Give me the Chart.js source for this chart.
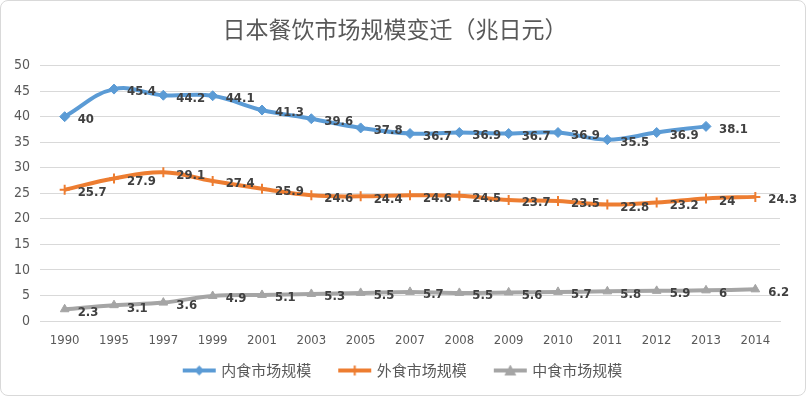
<!DOCTYPE html>
<html>
<head>
<meta charset="utf-8">
<script src="https://cdn.jsdelivr.net/npm/chart.js@4/dist/chart.umd.min.js"></script>
<style>
  html, body { margin: 0; padding: 0; background: #fff; }
  #wrap { width: 806px; height: 396px; box-sizing: border-box; border: 1px solid #d9d9d9; border-radius: 8px; position: relative; overflow: hidden; }
  #myChart { position: absolute; left: -1px; top: -1px; }
</style>
</head>
<body>
<div id="wrap"><canvas id="myChart" width="806" height="396"></canvas></div>
<script>
const years = ['1990', '1995', '1997', '1999', '2001', '2003', '2005', '2007', '2008', '2009', '2010', '2011', '2012', '2013', '2014'];
const neishi = [40, 45.4, 44.2, 44.1, 41.3, 39.6, 37.8, 36.7, 36.9, 36.7, 36.9, 35.5, 36.9, 38.1, null];
const waishi = [25.7, 27.9, 29.1, 27.4, 25.9, 24.6, 24.4, 24.6, 24.5, 23.7, 23.5, 22.8, 23.2, 24, 24.3];
const zhongshi = [2.3, 3.1, 3.6, 4.9, 5.1, 5.3, 5.5, 5.7, 5.5, 5.6, 5.7, 5.8, 5.9, 6, 6.2];

const narrowFamily = "'Liberation Sans Narrow', 'DejaVu Sans Condensed', 'Liberation Sans', sans-serif";
const labelFont = "bold 13px " + narrowFamily;

// value labels next to each point, like the Excel data labels
const pointLabels = {
  id: 'pointLabels',
  afterDatasetsDraw(chart) {
    const ctx = chart.ctx;
    ctx.save();
    ctx.font = labelFont;
    ctx.fillStyle = '#404040';
    ctx.textAlign = 'left';
    ctx.textBaseline = 'middle';
    chart.data.datasets.forEach((ds, i) => {
      const meta = chart.getDatasetMeta(i);
      meta.data.forEach((pt, j) => {
        const v = ds.data[j];
        if (v === null || v === undefined) return;
        ctx.fillText(String(v), pt.x + 13, pt.y + 3);
      });
    });
    ctx.restore();
  }
};

// legend swatch: a short line with the marker in the middle (left part left empty for spacing)
function legendSwatch(color, marker) {
  const c = document.createElement('canvas');
  c.width = 56;
  c.height = 12;
  const g = c.getContext('2d');
  g.strokeStyle = color;
  g.fillStyle = color;
  g.lineWidth = 4;
  g.beginPath();
  g.moveTo(20, 6);
  g.lineTo(53, 6);
  g.stroke();
  const cx = 36.5, cy = 6;
  if (marker === 'diamond') {
    g.beginPath();
    g.moveTo(cx, cy - 5); g.lineTo(cx + 5, cy); g.lineTo(cx, cy + 5); g.lineTo(cx - 5, cy);
    g.closePath();
    g.fill();
  } else if (marker === 'cross') {
    g.lineWidth = 2;
    g.beginPath();
    g.moveTo(cx, cy - 5); g.lineTo(cx, cy + 5);
    g.moveTo(cx - 5, cy); g.lineTo(cx + 5, cy);
    g.stroke();
  } else {
    g.beginPath();
    g.moveTo(cx, cy - 6); g.lineTo(cx + 6, cy + 5); g.lineTo(cx - 6, cy + 5);
    g.closePath();
    g.fill();
  }
  return c;
}
const swatches = [
  legendSwatch('#5b9bd5', 'diamond'),
  legendSwatch('#ed7d31', 'cross'),
  legendSwatch('#a5a5a5', 'triangle'),
];

const datasets = [];
datasets.push({
  label: '内食市场规模',
  data: neishi,
  borderColor: '#5b9bd5',
  backgroundColor: '#5b9bd5',
  borderWidth: 4,
  pointStyle: 'rectRot',
  pointRadius: 5,
  pointBorderWidth: 1,
  tension: 0.4,
});
datasets.push({
  label: '外食市场规模',
  data: waishi,
  borderColor: '#ed7d31',
  backgroundColor: '#ed7d31',
  borderWidth: 4,
  pointStyle: 'cross',
  pointRadius: 5,
  pointBorderWidth: 2,
  tension: 0.4,
});
datasets.push({
  label: '中食市场规模',
  data: zhongshi,
  borderColor: '#a5a5a5',
  backgroundColor: '#a5a5a5',
  borderWidth: 4,
  pointStyle: 'triangle',
  pointRadius: 5,
  pointBorderWidth: 1,
  tension: 0.4,
});

const config = {
  type: 'line',
  data: { labels: years, datasets },
  plugins: [pointLabels],
  options: {
    responsive: false,
    animation: false,
    layout: { padding: { left: 10, right: 26, top: 0, bottom: 8 } },
    plugins: {
      title: {
        display: true,
        text: '日本餐饮市场规模变迁（兆日元）',
        color: '#595959',
        font: { size: 23, weight: 'normal', family: "'Noto Sans CJK SC', sans-serif" },
        padding: { top: 15, bottom: 23 },
      },
      legend: {
        position: 'bottom',
        labels: {
          color: '#595959',
          font: { size: 15, family: "'Noto Sans CJK SC', sans-serif" },
          usePointStyle: true,
          pointStyleWidth: 46,
          padding: 12,
          generateLabels(chart) {
            const items = Chart.defaults.plugins.legend.labels.generateLabels(chart);
            items.forEach((it, i) => { it.pointStyle = swatches[i]; });
            return items;
          },
        },
      },
      tooltip: { enabled: false },
    },
    scales: {
      x: {
        offset: true,
        grid: { display: false },
        border: { color: '#d9d9d9' },
        ticks: { color: '#595959', font: { size: 13, family: narrowFamily }, maxRotation: 0, padding: 4 },
        afterFit(scale) { scale.height = 30; },
      },
      y: {
        min: 0,
        max: 50,
        ticks: { stepSize: 5, color: '#595959', font: { size: 14, family: narrowFamily }, padding: 10 },
        grid: { color: '#d9d9d9', drawTicks: false },
        border: { display: false },
        afterFit(scale) { scale.width = 30; },
      },
    },
  },
};

const ctx = document.getElementById('myChart').getContext('2d');
const myChart = new Chart(ctx, config);
</script>
</body>
</html>
